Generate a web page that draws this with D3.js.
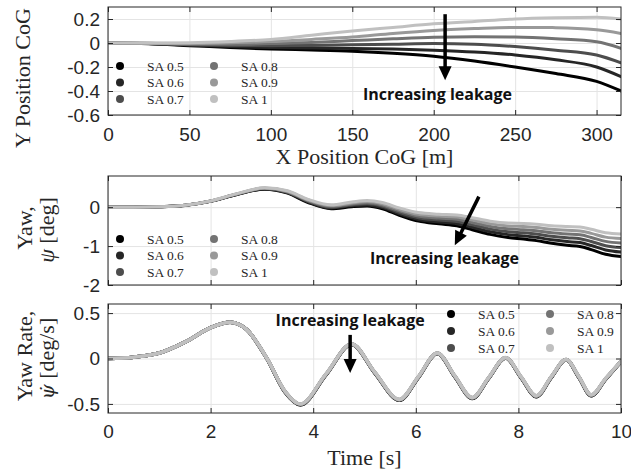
<!DOCTYPE html>
<html><head><meta charset="utf-8">
<script src="https://cdn.jsdelivr.net/npm/d3@7"></script>
<style>body{margin:0;background:#fff}svg{display:block}</style>
</head><body>
<script>
// ---------- DATA ----------
const seriesNames = ["SA 0.5","SA 0.6","SA 0.7","SA 0.8","SA 0.9","SA 1"];
const seriesColors = ["#000000","#262626","#4d4d4d","#737373","#999999","#c0c0c0"];

// Panel 1: Y position CoG vs X position CoG
const xPos = [0,25,50,75,100,125,150,175,200,225,250,275,300,315];
const yPos_SA05 = [0,-0.006,-0.022,-0.038,-0.05,-0.058,-0.068,-0.085,-0.11,-0.15,-0.2,-0.255,-0.32,-0.4];
const yPos_SA06 = [0,-0.005,-0.018,-0.03,-0.038,-0.042,-0.045,-0.05,-0.06,-0.075,-0.1,-0.14,-0.2,-0.28];
const yPos_SA07 = [0,-0.004,-0.014,-0.02,-0.022,-0.02,-0.015,-0.01,-0.005,-0.01,-0.03,-0.06,-0.1,-0.165];
const yPos_SA08 = [0,-0.003,-0.01,-0.01,-0.005,0.005,0.02,0.035,0.048,0.053,0.05,0.035,0.01,-0.045];
const yPos_SA09 = [0,-0.002,-0.004,0.002,0.012,0.03,0.05,0.08,0.105,0.12,0.13,0.128,0.11,0.08];
const yPos_SA1  = [0,0,0.002,0.012,0.03,0.065,0.1,0.13,0.16,0.18,0.2,0.21,0.215,0.2];

// Panel 2: yaw angle [deg] vs time
const yawTime = [0,0.5,1,1.5,2,2.5,3.05,3.5,3.9,4.35,4.75,5.05,5.35,5.68,6.05,6.45,6.8,7.1,7.45,7.8,8.1,8.35,8.65,8.95,9.2,9.42,9.7,10];
const yaw_SA05 = [0,0,0.01,0.045,0.15,0.32,0.46,0.36,0.12,-0.04,0.01,0.03,-0.04,-0.21,-0.36,-0.43,-0.48,-0.58,-0.7,-0.78,-0.82,-0.86,-0.93,-0.98,-1.01,-1.09,-1.21,-1.27];
const yaw_SA06 = [0,0,0.01,0.046,0.152,0.324,0.468,0.372,0.136,-0.02,0.034,0.058,-0.008,-0.172,-0.316,-0.38,-0.424,-0.518,-0.632,-0.706,-0.74,-0.776,-0.84,-0.884,-0.91,-0.986,-1.1,-1.154];
const yaw_SA07 = [0,0,0.01,0.047,0.154,0.328,0.476,0.384,0.152,0,0.058,0.086,0.024,-0.134,-0.272,-0.33,-0.368,-0.456,-0.564,-0.632,-0.66,-0.692,-0.75,-0.788,-0.81,-0.882,-0.99,-1.038];
const yaw_SA08 = [0,0,0.01,0.048,0.156,0.332,0.484,0.396,0.168,0.02,0.082,0.114,0.056,-0.096,-0.228,-0.28,-0.312,-0.394,-0.496,-0.558,-0.58,-0.608,-0.66,-0.692,-0.71,-0.778,-0.88,-0.922];
const yaw_SA09 = [0,0,0.01,0.049,0.158,0.336,0.492,0.408,0.184,0.04,0.106,0.142,0.088,-0.058,-0.184,-0.23,-0.256,-0.332,-0.428,-0.484,-0.5,-0.524,-0.57,-0.596,-0.61,-0.674,-0.77,-0.806];
const yaw_SA1  = [0,0,0.01,0.05,0.16,0.34,0.5,0.42,0.2,0.06,0.13,0.17,0.12,-0.02,-0.14,-0.18,-0.2,-0.27,-0.36,-0.41,-0.42,-0.44,-0.48,-0.5,-0.51,-0.57,-0.66,-0.69];

// Panel 3: yaw rate [deg/s] vs time
const rateTime = [0,0.5,1,1.5,2,2.38,2.7,3.1,3.45,3.75,4.25,4.75,5.2,5.68,6.05,6.42,6.76,7.1,7.42,7.75,8.05,8.35,8.64,8.93,9.18,9.42,9.7,10];
const rate_SA05 = [0,0.015,0.06,0.18,0.34,0.40,0.32,-0.005,-0.37,-0.51,-0.18,0.155,-0.16,-0.46,-0.21,0.055,-0.2,-0.44,-0.22,0.005,-0.21,-0.42,-0.21,-0.015,-0.21,-0.41,-0.23,-0.035];
const rate_SA06 = [0,0.015,0.06,0.18,0.34,0.40,0.32,-0.004,-0.368,-0.508,-0.178,0.156,-0.158,-0.458,-0.208,0.056,-0.198,-0.438,-0.218,0.006,-0.208,-0.418,-0.208,-0.014,-0.208,-0.408,-0.228,-0.034];
const rate_SA07 = [0,0.015,0.06,0.18,0.34,0.40,0.32,-0.003,-0.366,-0.506,-0.176,0.157,-0.156,-0.456,-0.206,0.057,-0.196,-0.436,-0.216,0.007,-0.206,-0.416,-0.206,-0.013,-0.206,-0.406,-0.226,-0.033];
const rate_SA08 = [0,0.015,0.06,0.18,0.34,0.40,0.32,-0.002,-0.364,-0.504,-0.174,0.158,-0.154,-0.454,-0.204,0.058,-0.194,-0.434,-0.214,0.008,-0.204,-0.414,-0.204,-0.012,-0.204,-0.404,-0.224,-0.032];
const rate_SA09 = [0,0.015,0.06,0.18,0.34,0.40,0.32,-0.001,-0.362,-0.502,-0.172,0.159,-0.152,-0.452,-0.202,0.059,-0.192,-0.432,-0.212,0.009,-0.202,-0.412,-0.202,-0.011,-0.202,-0.402,-0.222,-0.031];
const rate_SA1  = [0,0.015,0.06,0.18,0.34,0.40,0.32,0,-0.36,-0.50,-0.17,0.16,-0.15,-0.45,-0.2,0.06,-0.19,-0.43,-0.21,0.01,-0.2,-0.41,-0.2,-0.01,-0.2,-0.40,-0.22,-0.03];

// Ticks
const p1XTicks = [0,50,100,150,200,250,300];
const p1YTicks = [-0.6,-0.4,-0.2,0,0.2];
const timeTicks = [0,2,4,6,8,10];
const p2YTicks = [-2,-1,0];
const p3YTicks = [-0.5,0,0.5];

// ---------- DRAW ----------
const W = 631, H = 473;
const svg = d3.select("body").append("svg").attr("width", W).attr("height", H);
svg.append("rect").attr("width", W).attr("height", H).attr("fill", "#fff");

const TICKFONT = "'Liberation Sans', Arial, sans-serif";
const SERIF = "'Liberation Serif', 'Times New Roman', serif";
const BOLD = "'Open Sans', sans-serif";
const fmt = d => String(d);
let clipId = 0;

function makePanel(o) {
  const x = d3.scaleLinear().domain(o.xd).range([o.l, o.r]);
  const y = d3.scaleLinear().domain(o.yd).range([o.b, o.t]);
  const g = svg.append("g");
  g.append("g").attr("transform", `translate(0,${o.b})`)
    .call(d3.axisBottom(x).tickValues(o.xt).tickSize(-(o.b - o.t)).tickFormat(""))
    .call(a => { a.select(".domain").remove(); a.selectAll("line").attr("stroke", "#e4e4e4"); });
  g.append("g").attr("transform", `translate(${o.l},0)`)
    .call(d3.axisLeft(y).tickValues(o.yt).tickSize(-(o.r - o.l)).tickFormat(""))
    .call(a => { a.select(".domain").remove(); a.selectAll("line").attr("stroke", "#e4e4e4"); });
  const id = "clip" + (clipId++);
  svg.append("clipPath").attr("id", id).append("rect")
    .attr("x", o.l).attr("y", o.t).attr("width", o.r - o.l).attr("height", o.b - o.t);
  const plot = g.append("g").attr("clip-path", `url(#${id})`);
  return { x, y, g, plot, o };
}

function finishPanel(P, showXLabels) {
  const { x, y, g, o } = P;
  const style = a => {
    a.select(".domain").remove();
    a.selectAll("line").attr("stroke", "#262626");
    a.selectAll("text").attr("font-family", TICKFONT).attr("font-size", 19).attr("fill", "#262626");
    a.attr("font-family", null).attr("font-size", null);
  };
  g.append("g").attr("transform", `translate(0,${o.b})`)
    .call(d3.axisBottom(x).tickValues(o.xt).tickSize(-5).tickSizeOuter(0).tickPadding(o.xpad || 13)
      .tickFormat(showXLabels ? fmt : ""))
    .call(style);
  g.append("g").attr("transform", `translate(0,${o.t})`)
    .call(d3.axisTop(x).tickValues(o.xt).tickSize(-5).tickSizeOuter(0).tickFormat(""))
    .call(style);
  g.append("g").attr("transform", `translate(${o.l},0)`)
    .call(d3.axisLeft(y).tickValues(o.yt).tickSize(-5).tickSizeOuter(0).tickPadding(8).tickFormat(fmt))
    .call(style);
  g.append("g").attr("transform", `translate(${o.r},0)`)
    .call(d3.axisRight(y).tickValues(o.yt).tickSize(-5).tickSizeOuter(0).tickFormat(""))
    .call(style);
  g.append("rect").attr("x", o.l).attr("y", o.t).attr("width", o.r - o.l).attr("height", o.b - o.t)
    .attr("fill", "none").attr("stroke", "#262626").attr("stroke-width", 1);
}

function drawSeries(P, xs, list, width) {
  const line = d3.line().x((d, i) => P.x(xs[i])).y(d => P.y(d)).curve(d3.curveMonotoneX);
  list.forEach((vals, k) => {
    P.plot.append("path").attr("d", line(vals)).attr("fill", "none")
      .attr("stroke", seriesColors[k]).attr("stroke-width", width)
      .attr("stroke-linejoin", "round").attr("stroke-linecap", "round");
  });
}

function legend(P, x0, y0, colGap, rowGap) {
  const g = P.g.append("g");
  seriesNames.forEach((name, k) => {
    const col = Math.floor(k / 3), row = k % 3;
    const cx = x0 + col * colGap, cy = y0 + row * rowGap;
    g.append("circle").attr("cx", cx).attr("cy", cy).attr("r", 4).attr("fill", seriesColors[k]);
    g.append("text").attr("x", cx + 27).attr("y", cy).attr("dy", "0.35em")
      .attr("font-family", SERIF).attr("font-size", 13.5).attr("fill", "#262626").text(name);
  });
}

function arrow(P, xa, ya, xb, yb, textX, textY) {
  const x1 = P.x(xa), y1 = P.y(ya), x2 = P.x(xb), y2 = P.y(yb);
  const dx = x2 - x1, dy = y2 - y1, len = Math.hypot(dx, dy);
  const ux = dx / len, uy = dy / len, hl = 14, hw = 6.5;
  const bx = x2 - ux * hl, by = y2 - uy * hl;
  P.g.append("line").attr("x1", x1).attr("y1", y1).attr("x2", bx + ux * 2).attr("y2", by + uy * 2)
    .attr("stroke", "#000").attr("stroke-width", 3.5);
  P.g.append("path").attr("d",
    `M${x2},${y2}L${bx - uy * hw},${by + ux * hw}L${bx + uy * hw},${by - ux * hw}Z`).attr("fill", "#000");
  P.g.append("text").attr("x", P.x(textX)).attr("y", P.y(textY)).attr("text-anchor", "middle")
    .attr("font-family", BOLD).attr("font-weight", 700).attr("font-size", 16).attr("fill", "#111")
    .text("Increasing leakage");
}

// Panel 1
const P1 = makePanel({ l: 108, r: 621, t: 7, b: 115, xd: [0, 315], yd: [-0.6, 0.3], xt: p1XTicks, yt: p1YTicks, xpad: 13 });
drawSeries(P1, xPos, [yPos_SA05, yPos_SA06, yPos_SA07, yPos_SA08, yPos_SA09, yPos_SA1], 3);
finishPanel(P1, true);
legend(P1, 120, 66, 94, 16.5);
arrow(P1, 207, 0.24, 207, -0.31, 202.3, -0.475);

// Panel 2
const P2 = makePanel({ l: 108, r: 621, t: 176, b: 285, xd: [0, 10], yd: [-2, 0.8], xt: timeTicks, yt: p2YTicks });
drawSeries(P2, yawTime, [yaw_SA05, yaw_SA06, yaw_SA07, yaw_SA08, yaw_SA09, yaw_SA1], 3);
finishPanel(P2, false);
legend(P2, 120, 239, 94, 16.5);
arrow(P2, 7.23, 0.27, 6.76, -0.98, 6.56, -1.47);

// Panel 3
const P3 = makePanel({ l: 108, r: 621, t: 304, b: 413, xd: [0, 10], yd: [-0.6, 0.6], xt: timeTicks, yt: p3YTicks, xpad: 12 });
drawSeries(P3, rateTime, [rate_SA05, rate_SA06, rate_SA07, rate_SA08, rate_SA09, rate_SA1], 3.5);
finishPanel(P3, true);
legend(P3, 451, 314, 99, 17);
arrow(P3, 4.72, 0.26, 4.72, -0.16, 4.72, 0.36);

// Axis titles
function label(x, y, rot, parts) {
  const t = svg.append("text").attr("transform", `translate(${x},${y}) rotate(${rot})`)
    .attr("text-anchor", "middle").attr("font-family", SERIF).attr("font-size", 22).attr("fill", "#262626");
  parts.forEach(p => {
    const s = t.append("tspan").text(p.t);
    if (p.i) s.attr("font-style", "italic");
    if (p.f) s.attr("font-family", p.f).attr("font-size", p.s || 20);
  });
}
label(364.5, 164, 0, [{ t: "X Position CoG [m]" }]);
label(364.5, 465, 0, [{ t: "Time [s]" }]);
label(30, 78, -90, [{ t: "Y Position CoG" }]);
label(32, 228, -90, [{ t: "Yaw," }]);
label(54, 230, -90, [{ t: "ψ", i: true }, { t: " [deg]" }]);
label(32, 356, -90, [{ t: "Yaw Rate," }]);
label(54, 358.5, -90, [{ t: "\u03C8\u0307", i: true, f: "'DejaVu Serif', serif", s: 19 }, { t: " [deg/s]" }]);
</script>
</body></html>
